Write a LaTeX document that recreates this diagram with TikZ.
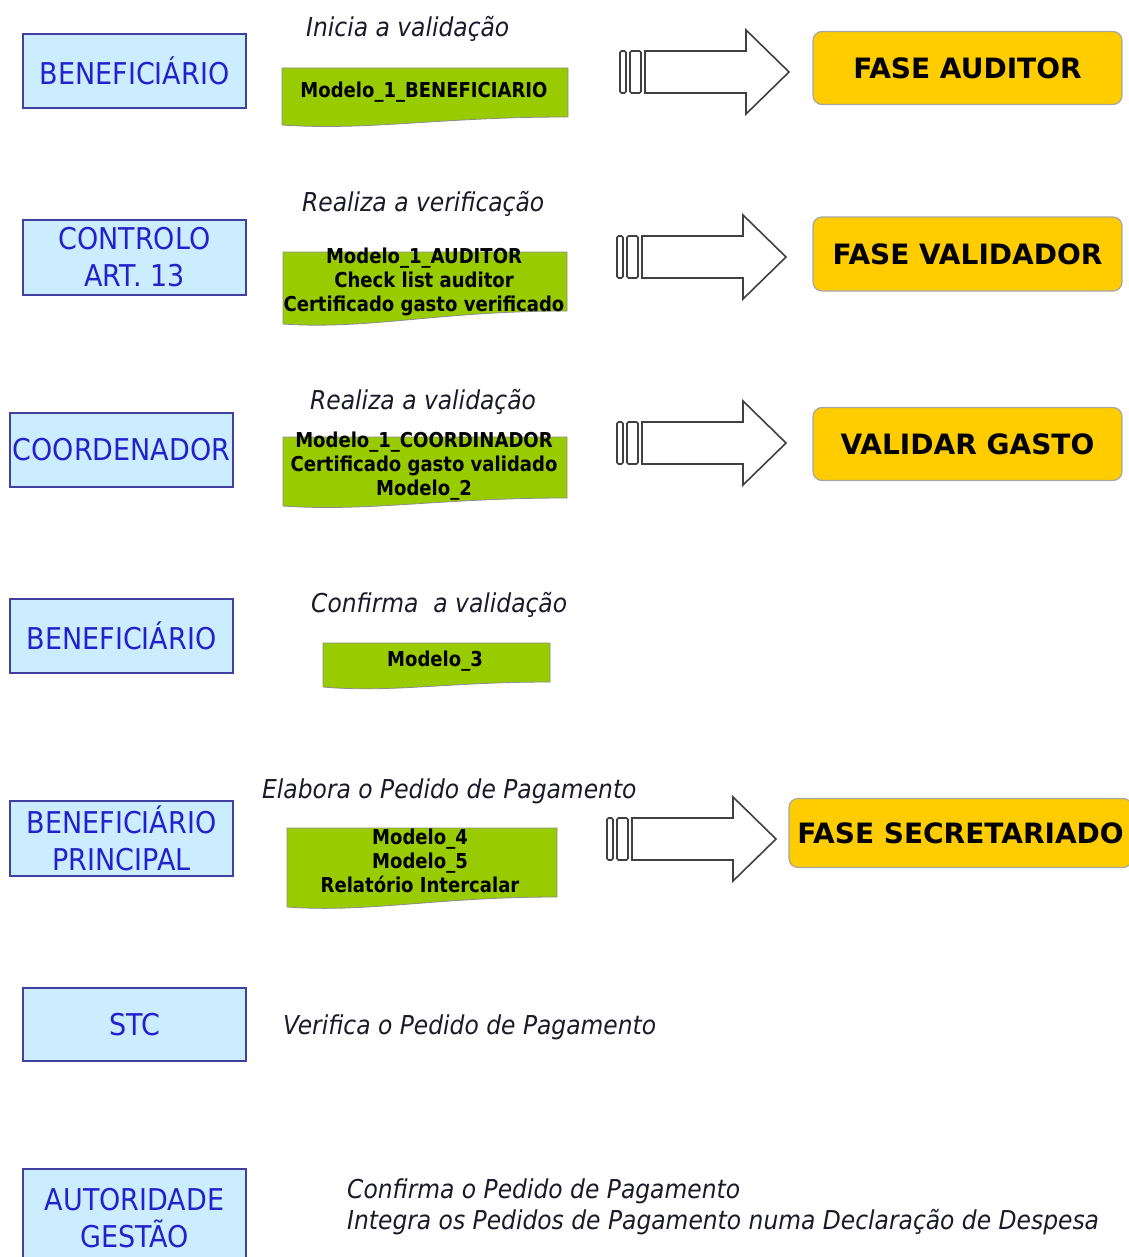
\documentclass[tikz,border=0pt]{standalone}
\usepackage{fontspec}
\setmainfont{DejaVu Sans}
\newfontfamily\narrowfont[FakeStretch=0.9]{DejaVu Sans}
\newfontfamily\docfont[FakeStretch=0.88]{DejaVu Sans}
\usepackage{tikz}
\definecolor{bluefill}{RGB}{204,236,255}
\definecolor{blueline}{RGB}{64,64,160}
\definecolor{bluetext}{RGB}{34,34,204}
\definecolor{docgreen}{RGB}{153,204,0}
\definecolor{docedge}{RGB}{140,140,140}
\definecolor{faseyellow}{RGB}{255,204,0}
\definecolor{faseedge}{RGB}{166,166,166}
\definecolor{arrowedge}{RGB}{64,64,64}
\definecolor{labeltext}{RGB}{26,26,40}
% document shape: left x, top y, right x, right bottom y, left bottom y
\newcommand{\greendoc}[5]{%
  \filldraw[docshape] (#1,#2) -- (#3,#2) -- (#3,#4)
    .. controls ({#1+0.55*(#3-#1)},#4) and ({#1+0.3*(#3-#1)},{#5+6}) .. (#1,#5) -- cycle;}
% striped block arrow: left x, centre y
\newcommand{\blockarrow}[2]{%
  \draw[arrowshape,rounded corners=1.5pt] (#1,{#2-21}) rectangle ({#1+6},{#2+21});
  \draw[arrowshape,rounded corners=1.5pt] ({#1+10},{#2-21}) rectangle ({#1+21},{#2+21});
  \draw[arrowshape] ({#1+25},{#2-21}) -- ({#1+126},{#2-21}) -- ({#1+126},{#2-42})
    -- ({#1+169},#2) -- ({#1+126},{#2+42}) -- ({#1+126},{#2+21}) -- ({#1+25},{#2+21}) -- cycle;}

\begin{document}
\begin{tikzpicture}[
    x=1pt, y=-1pt,
    actor/.style={draw=blueline,line width=1.6pt,fill=bluefill,text=bluetext,
      minimum width=223pt,inner sep=0pt,align=center,
      font=\narrowfont\fontsize{30}{37}\selectfont},
    docshape/.style={fill=docgreen,draw=docedge,line width=0.8pt},
    doctext/.style={inner sep=0pt,align=center,text=black,
      font=\docfont\bfseries\fontsize{20.5}{24}\selectfont},
    fase/.style={draw=faseedge,line width=1.2pt,fill=faseyellow,rounded corners=9pt,
      inner sep=0pt,font=\bfseries\fontsize{28}{34}\selectfont},
    step label/.style={anchor=base west,inner sep=0pt,text=labeltext,align=left,
      font=\narrowfont\itshape\fontsize{26}{31}\selectfont},
    arrowshape/.style={draw=arrowedge,line width=1.6pt,fill=white}
    ]
    \useasboundingbox (0,0) rectangle (1128,1257);
    % actors
    \node[actor,minimum height=74pt] (ben1) at (134.5,71) {BENEFICIÁRIO};
    \node[actor,minimum height=75pt] (ctrl) at (134.5,257.5) {CONTROLO\\ART. 13};
    \node[actor,minimum height=74pt] (coord) at (121.5,450) {COORDENADOR};
    \node[actor,minimum height=74pt] (ben2) at (121.5,636) {BENEFICIÁRIO};
    \node[actor,minimum height=75pt] (benp) at (121.5,838.5) {BENEFICIÁRIO\\PRINCIPAL};
    \node[actor,minimum height=73pt] (stc) at (134.5,1024.5) {STC};
    \node[actor,minimum height=98pt] (autg) at (134.5,1218) {AUTORIDADE\\GESTÃO};
    % step labels
    \node[step label] (lbl1) at (306,37) {Inicia a validação};
    \node[step label] (lbl2) at (302,212) {Realiza a verificação};
    \node[step label] (lbl3) at (310,409) {Realiza a validação};
    \node[step label] (lbl4) at (311,612) {Confirma\ \ a validação};
    \node[step label] (lbl5) at (262,798) {Elabora o Pedido de Pagamento};
    \node[step label] (lbl6) at (283,1034) {Verifica o Pedido de Pagamento};
    \node[step label] (lbl7) at (347,1229) {Confirma o Pedido de Pagamento\\Integra os Pedidos de Pagamento numa Declaração de Despesa};
    % documents
    \greendoc{282}{68}{568}{117}{125}
    \node[doctext] (doc1) at (424,92) {Modelo\_1\_BENEFICIARIO};
    \greendoc{283}{252}{567}{311}{324}
    \node[doctext] (doc2) at (424,282) {Modelo\_1\_AUDITOR\\Check list auditor\\Certificado gasto verificado};
    \greendoc{283}{437}{567}{498}{506}
    \node[doctext] (doc3) at (424,466) {Modelo\_1\_COORDINADOR\\Certificado gasto validado\\Modelo\_2};
    \greendoc{323}{643}{550}{682}{687}
    \node[doctext] (doc4) at (435,661) {Modelo\_3};
    \greendoc{287}{828}{557}{897}{907}
    \node[doctext] (doc5) at (420,861) {Modelo\_4\\Modelo\_5\\Relatório Intercalar};
    % transitions
    \blockarrow{620}{72}
    \blockarrow{617}{257}
    \blockarrow{617}{443}
    \blockarrow{607}{839}
    % phases
    \node[fase,minimum width=309pt,minimum height=73pt] (fase1) at (967.5,68) {FASE AUDITOR};
    \node[fase,minimum width=309pt,minimum height=74pt] (fase2) at (967.5,254) {FASE VALIDADOR};
    \node[fase,minimum width=309pt,minimum height=73pt] (fase3) at (967.5,444) {VALIDAR GASTO};
    \node[fase,minimum width=343pt,minimum height=69pt] (fase4) at (960.5,833) {FASE SECRETARIADO};
\end{tikzpicture}
\end{document}
